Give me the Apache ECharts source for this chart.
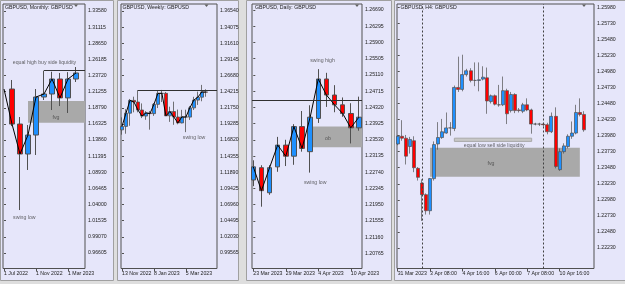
<!DOCTYPE html>
<html>
<head>
<meta charset="utf-8">
<script src="https://cdn.jsdelivr.net/npm/echarts@6/dist/echarts.min.js"></script>
<style>
html, body { margin: 0; padding: 0; background: #dedede; }
#main { width: 625px; height: 284px; }
</style>
</head>
<body>
<div id="main"></div>
<script type="text/javascript">

// ---- monthly (x index 0 = Jul 2022) ----
var monthStart = 1; // first drawn candle is Aug 2022
var monthlyOHLC = [           // open, close, low, high
    [1.2166, 1.1631, 1.1600, 1.2304],
    [1.1631, 1.1173, 1.0317, 1.1738],
    [1.1173, 1.1463, 1.0929, 1.1616],
    [1.1463, 1.2044, 1.1158, 1.2166],
    [1.2044, 1.2090, 1.1998, 1.2447],
    [1.2090, 1.2319, 1.1845, 1.2430],
    [1.2319, 1.2030, 1.1906, 1.2411],
    [1.2030, 1.2319, 1.1800, 1.2424],
    [1.2319, 1.2411, 1.2273, 1.2502]
];
var monthlyZigX = [0, 1, 2, 3, 4, 5, 6, 7, 8, 9];
var monthlyZigY = [1.2166, 1.1631, 1.1173, 1.1463, 1.2044, 1.2090, 1.2319, 1.2030, 1.2319, 1.2411];
var monthlyXTicks = [0, 4, 8];
var monthlyXText = ['1 Jul 2022', '1 Nov 2022', '1 Mar 2023'];
var monthlyYTicks = ['1.33580', '1.31115', '1.28650', '1.26185', '1.23720', '1.21255', '1.18790', '1.16325',
    '1.13860', '1.11395', '1.08930', '1.06465', '1.04000', '1.01535', '0.99070', '0.96605'];
var monthlyHigh = [5, 1.2447];              // equal high line: from x, level
var monthlyFvg = [3, 1.1651, 1.1983];        // from x, low, high
var monthlyNotes = [['equal high buy side liquidity', 5.06, 1.2574], ['fvg', 6.5, 1.1734], ['swing low', 2.54, 1.0206]];

// ---- weekly (x index 0 = 13 Nov 2022) ----
var weeklyOHLC = [
    [1.1838, 1.1891, 1.1764, 1.2029],
    [1.1891, 1.2093, 1.1779, 1.2154],
    [1.2093, 1.2288, 1.1900, 1.2310],
    [1.2288, 1.2263, 1.2106, 1.2345],
    [1.2263, 1.2141, 1.2106, 1.2446],
    [1.2141, 1.2049, 1.2018, 1.2242],
    [1.2049, 1.2097, 1.1992, 1.2124],
    [1.2097, 1.2086, 1.1841, 1.2125],
    [1.2086, 1.2228, 1.2051, 1.2248],
    [1.2228, 1.2395, 1.2171, 1.2437],
    [1.2395, 1.2396, 1.2263, 1.2448],
    [1.2396, 1.2052, 1.2049, 1.2417],
    [1.2052, 1.2118, 1.1960, 1.2192],
    [1.2118, 1.2034, 1.1915, 1.2269],
    [1.2034, 1.1944, 1.1923, 1.2148],
    [1.1944, 1.2036, 1.1938, 1.2144],
    [1.2036, 1.2033, 1.1803, 1.2146],
    [1.2033, 1.2174, 1.1990, 1.2203],
    [1.2174, 1.2293, 1.2141, 1.2343],
    [1.2293, 1.2337, 1.2219, 1.2423],
    [1.2337, 1.2417, 1.2275, 1.2525],
    [1.2417, 1.2414, 1.2344, 1.2458]
];
var weeklyZigY = [1.1891, 1.2093, 1.2288, 1.2263, 1.2141, 1.2049, 1.2097, 1.2086, 1.2228, 1.2395, 1.2396,
    1.2052, 1.2118, 1.2034, 1.1944, 1.2036, 1.2033, 1.2174, 1.2293, 1.2337, 1.2417, 1.2414];
var weeklyXTicks = [0, 8, 16];
var weeklyXText = ['13 Nov 2022', '8 Jan 2023', '5 Mar 2023'];
var weeklyYTicks = ['1.36540', '1.34075', '1.31610', '1.29145', '1.26680', '1.24215', '1.21750', '1.19285',
    '1.16820', '1.14355', '1.11890', '1.09425', '1.06960', '1.04495', '1.02030', '0.99565'];
var weeklyHigh = [4, 1.2446];
var weeklyNotes = [['swing low', 18.05, 1.1724]];

// ---- daily (x index 0 = 23 Mar 2023) ----
var dailyOHLC = [
    [1.2255, 1.2287, 1.2240, 1.2303],
    [1.2285, 1.2229, 1.2190, 1.2291],
    [1.2224, 1.2285, 1.2219, 1.2291],
    [1.2287, 1.2340, 1.2275, 1.2360],
    [1.2340, 1.2313, 1.2289, 1.2353],
    [1.2313, 1.2385, 1.2292, 1.2391],
    [1.2385, 1.2332, 1.2324, 1.2423],
    [1.2324, 1.2408, 1.2273, 1.2437],
    [1.2405, 1.2501, 1.2394, 1.2525],
    [1.2501, 1.2462, 1.2433, 1.2516],
    [1.2462, 1.2438, 1.2420, 1.2486],
    [1.2438, 1.2417, 1.2409, 1.2456],
    [1.2417, 1.2382, 1.2344, 1.2442],
    [1.2382, 1.2408, 1.2375, 1.2458]
];
var dailyZigY = [1.2287, 1.2229, 1.2285, 1.2340, 1.2313, 1.2385, 1.2332, 1.2408, 1.2501, 1.2462, 1.2438, 1.2417, 1.2382, 1.2408];
var dailyXTicks = [0, 4, 8, 12];
var dailyXText = ['23 Mar 2023', '29 Mar 2023', '4 Apr 2023', '10 Apr 2023'];
var dailyYTicks = ['1.26690', '1.26295', '1.25900', '1.25505', '1.25110', '1.24715', '1.24320', '1.23925',
    '1.23530', '1.23135', '1.22740', '1.22345', '1.21950', '1.21555', '1.21160', '1.20765'];
var dailyLevel = 1.2448;                 // horizontal line across the panel
var dailyOb = [7.2, 1.2335, 1.2385];
var dailyNotes = [['swing high', 8.52, 1.2547], ['swing low', 7.62, 1.2249], ['ob', 9.19, 1.2357]];

// ---- H4 (x index 0 = 31 Mar 2023 00:00) ----
var h4OHLC = [
    [1.2385, 1.2397, 1.2383, 1.2399], [1.2397, 1.2394, 1.2390, 1.2422], [1.2394, 1.2366, 1.2353, 1.2399],
    [1.2381, 1.2392, 1.2370, 1.2396], [1.2390, 1.2348, 1.2341, 1.2397], [1.2347, 1.2333, 1.2328, 1.2349],
    [1.2324, 1.2306, 1.2265, 1.2330], [1.2306, 1.2281, 1.2275, 1.2308], [1.2281, 1.2331, 1.2275, 1.2332],
    [1.2331, 1.2384, 1.2328, 1.2389], [1.2385, 1.2395, 1.2376, 1.2419], [1.2395, 1.2404, 1.2393, 1.2424],
    [1.2402, 1.2410, 1.2401, 1.2434], [1.2410, 1.2410, 1.2398, 1.2419], [1.2409, 1.2473, 1.2405, 1.2476],
    [1.2473, 1.2470, 1.2466, 1.2521], [1.2470, 1.2493, 1.2467, 1.2524], [1.2493, 1.2499, 1.2490, 1.2502],
    [1.2499, 1.2484, 1.2481, 1.2503], [1.2484, 1.2484, 1.2475, 1.2512], [1.2484, 1.2485, 1.2467, 1.2512],
    [1.2486, 1.2489, 1.2484, 1.2506], [1.2488, 1.2452, 1.2432, 1.2504], [1.2451, 1.2460, 1.2448, 1.2462],
    [1.2460, 1.2447, 1.2445, 1.2462], [1.2446, 1.2446, 1.2443, 1.2477], [1.2446, 1.2468, 1.2444, 1.2490],
    [1.2468, 1.2432, 1.2416, 1.2471], [1.2437, 1.2462, 1.2434, 1.2466], [1.2462, 1.2437, 1.2433, 1.2464],
    [1.2438, 1.2437, 1.2434, 1.2441], [1.2436, 1.2446, 1.2433, 1.2449], [1.2446, 1.2438, 1.2436, 1.2456],
    [1.2438, 1.2416, 1.2401, 1.2440], [1.2416, 1.2416, 1.2414, 1.2418], [1.2416, 1.2416, 1.2413, 1.2418],
    [1.2416, 1.2415, 1.2412, 1.2418], [1.2415, 1.2404, 1.2400, 1.2418], [1.2404, 1.2428, 1.2402, 1.2434],
    [1.2428, 1.2350, 1.2347, 1.2442], [1.2345, 1.2373, 1.2343, 1.2378], [1.2373, 1.2382, 1.2370, 1.2386],
    [1.2381, 1.2397, 1.2378, 1.2400], [1.2397, 1.2402, 1.2393, 1.2420], [1.2402, 1.2434, 1.2400, 1.2446],
    [1.2434, 1.2431, 1.2428, 1.2456], [1.2431, 1.2407, 1.2404, 1.2436]
];
var h4XTicks = [0, 8, 16, 24, 32, 40];
var h4XText = ['31 Mar 2023', '3 Apr 08:00', '4 Apr 16:00', '6 Apr 00:00', '7 Apr 08:00', '10 Apr 16:00'];
var h4YTicks = ['1.25980', '1.25730', '1.25480', '1.25230', '1.24980', '1.24730', '1.24480', '1.24230',
    '1.23980', '1.23730', '1.23480', '1.23230', '1.22980', '1.22730', '1.22480', '1.22230'];
var h4Separators = [6, 36];
var h4Fvg = [8, 45, 1.2334, 1.2379];
var h4EqualLow = [14, 33.1, 1.2389, 1.2394];
var h4Notes = [['equal low sell side liquidity', 23.85, 1.2382], ['fvg', 23.04, 1.2354]];


var FONT = 'Liberation Sans';
var BG = '#e6e6fa';
var grids = [], xAxes = [], yAxes = [], series = [];

function addPanel(k, p) {
    grids.push({
        left: p.left, top: 4, width: p.width, height: 264.5,
        show: true, backgroundColor: BG, borderColor: '#505050', borderWidth: 1
    });
    xAxes.push({
        type: 'value', gridIndex: k, min: p.xMin, max: p.xMax,
        axisLine: { show: false }, splitLine: { show: false },
        axisTick: { show: true, customValues: p.xTicks, length: 3, lineStyle: { color: '#505050' } },
        axisLabel: {
            customValues: p.xTicks, align: 'left', margin: 3, fontSize: 5.2, color: '#222', fontFamily: FONT,
            formatter: function (v) { return p.xText[p.xTicks.indexOf(v)]; }
        }
    });
    var yVals = p.yTicks.map(Number);
    yAxes.push({
        type: 'value', gridIndex: k, position: 'right', min: p.yMin, max: p.yMax,
        axisLine: { show: false }, splitLine: { show: false },
        axisTick: { show: true, customValues: yVals, length: 2, lineStyle: { color: '#505050' } },
        axisLabel: {
            customValues: yVals, margin: 3, fontSize: 5.2, color: '#222', fontFamily: FONT,
            formatter: function (v) { return v.toFixed(5); }
        }
    });

    var areas = (p.areas || []).map(function (a) {
        return [{ coord: [a[0], a[2]], itemStyle: { color: a[4], borderColor: a[5] || 'transparent', borderWidth: a[5] ? 1 : 0 } },
                { coord: [a[1], a[3]] }];
    });
    var lines = (p.hLines || []).map(function (h) {
        return [{ coord: [h[0], h[2]] }, { coord: [h[1], h[2]] }];
    });

    series.push({
        type: 'candlestick', xAxisIndex: k, yAxisIndex: k,
        data: p.ohlc.map(function (r, i) { return [p.start + i, r[0], r[1], r[2], r[3]]; }),
        encode: { x: 0, y: [1, 2, 3, 4] },
        barWidth: p.barWidth,
        itemStyle: {
            color: '#1e90ff', color0: '#ff0000', borderColor: '#505050', borderColor0: '#505050',
            borderWidth: p.border || 1
        },
        markArea: { silent: true, label: { show: false }, data: areas },
        markLine: {
            silent: true, symbol: 'none', label: { show: false },
            lineStyle: { color: '#303030', width: 1, type: 'solid' },
            data: lines.concat((p.vLines || []).map(function (x) {
                return { xAxis: x, lineStyle: { type: [2, 2], color: '#404040' } };
            }))
        }
    });
    if (p.zig) {
        series.push({
            type: 'line', xAxisIndex: k, yAxisIndex: k, data: p.zig, symbol: 'none', silent: true, z: 4,
            lineStyle: { color: '#000', width: 1 }
        });
    }
    series.push({
        type: 'scatter', xAxisIndex: k, yAxisIndex: k, symbolSize: 1, silent: true, z: 6,
        itemStyle: { color: 'rgba(0,0,0,0)' },
        label: { show: true, position: 'inside', formatter: '{b}', fontSize: 5.2, color: '#404040', fontFamily: FONT },
        data: p.notes.map(function (n) { return { name: n[0], value: [n[1], n[2]] }; })
    });
}

function zipXY(xs, ys) { return ys.map(function (y, i) { return [xs[i], y]; }); }
function seq(n) { var a = []; for (var i = 0; i < n; i++) a.push(i); return a; }

addPanel(0, {
    left: 3, width: 82, xMin: -0.125, xMax: 10.125, yMin: 0.94237, yMax: 1.34650,
    xTicks: monthlyXTicks, xText: monthlyXText, yTicks: monthlyYTicks,
    ohlc: monthlyOHLC, start: monthStart, barWidth: 5,
    zig: zipXY(monthlyZigX, monthlyZigY),
    hLines: [[monthlyHigh[0], 10.125, monthlyHigh[1]]],
    areas: [[monthlyFvg[0], 10.125, monthlyFvg[1], monthlyFvg[2], '#a9a9a9']],
    notes: monthlyNotes
});
addPanel(1, {
    left: 121, width: 96, xMin: -0.25, xMax: 23.8, yMin: 0.97197, yMax: 1.37610,
    xTicks: weeklyXTicks, xText: weeklyXText, yTicks: weeklyYTicks,
    ohlc: weeklyOHLC, start: 0, barWidth: 3, border: 0.8,
    zig: zipXY(seq(weeklyZigY.length), weeklyZigY),
    hLines: [[weeklyHigh[0], 23.8, weeklyHigh[1]]],
    notes: weeklyNotes
});
addPanel(2, {
    left: 252, width: 110, xMin: -0.16, xMax: 13.38, yMin: 1.20395, yMax: 1.26836,
    xTicks: dailyXTicks, xText: dailyXText, yTicks: dailyYTicks,
    ohlc: dailyOHLC, start: 0, barWidth: 5,
    zig: zipXY(seq(dailyZigY.length), dailyZigY),
    hLines: [[-0.16, 13.38, dailyLevel]],
    areas: [[dailyOb[0], 13.38, dailyOb[1], dailyOb[2], '#a9a9a9']],
    notes: dailyNotes
});
addPanel(3, {
    left: 397, width: 197, xMin: -0.17, xMax: 48.5, yMin: 1.21910, yMax: 1.26030,
    xTicks: h4XTicks, xText: h4XText, yTicks: h4YTicks,
    ohlc: h4OHLC, start: 0, barWidth: 3.5, border: 0.7,
    vLines: h4Separators,
    areas: [[h4Fvg[0], h4Fvg[1], h4Fvg[2], h4Fvg[3], '#a9a9a9'],
            [h4EqualLow[0], h4EqualLow[1], h4EqualLow[2], h4EqualLow[3], '#c8c8c8', '#a8a8a8']],
    notes: h4Notes
});

// chart windows, drawn under everything
var windows = [[0.5, 113], [117.5, 121], [246.5, 145], [394.5, 231]];
var graphics = windows.map(function (w) {
    return { type: 'rect', z: -10, shape: { x: w[0], y: 0.5, width: w[1], height: 280 },
             style: { fill: BG, stroke: '#a0a0a0', lineWidth: 1 } };
});
// little drop-down triangles in the top right corners
[76, 206.5, 357, 584].forEach(function (x) {
    graphics.push({ type: 'polygon', z: 10, shape: { points: [[x - 2, 4.5], [x + 2, 4.5], [x, 7]] },
                    style: { fill: '#606060' } });
});

var titles = [['GBPUSD, Monthly: GBPUSD', 5], ['GBPUSD, Weekly: GBPUSD', 122.5],
              ['GBPUSD, Daily: GBPUSD', 255], ['GBPUSD, H4: GBPUSD', 400.5]];

var option = {
    animation: false,
    backgroundColor: '#dedede',
    title: titles.map(function (t) {
        return { text: t[0], left: t[1], top: 5, padding: 0,
                 textStyle: { fontSize: 5.2, fontWeight: 'normal', color: '#202020', fontFamily: FONT } };
    }),
    graphic: graphics,
    grid: grids,
    xAxis: xAxes,
    yAxis: yAxes,
    series: series
};

var myChart = echarts.init(document.getElementById('main'));
myChart.setOption(option);
</script>
</body>
</html>
